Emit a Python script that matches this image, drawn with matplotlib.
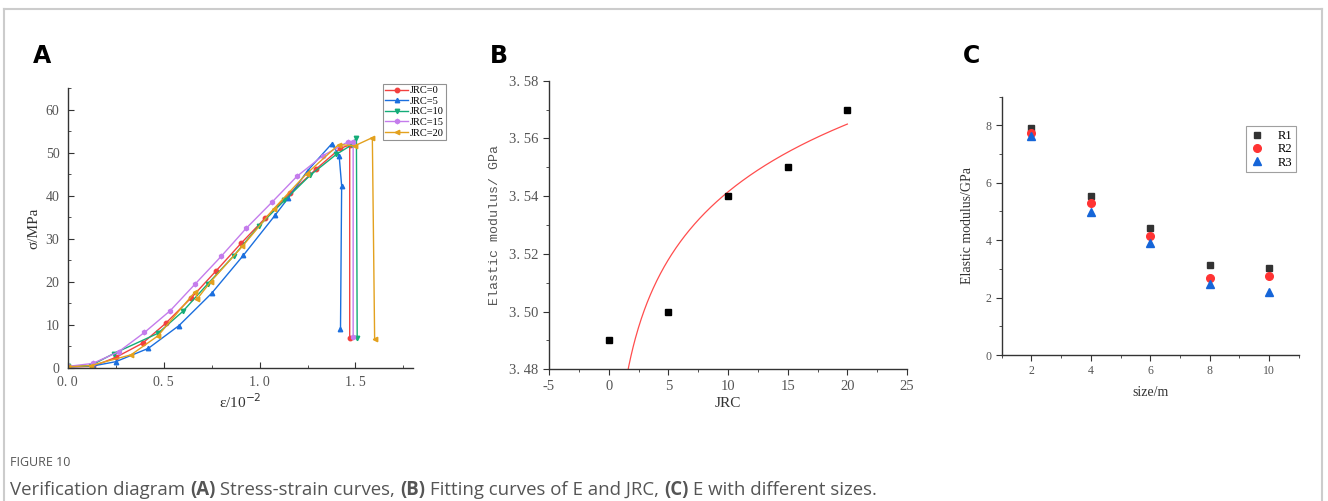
import matplotlib
matplotlib.use("Agg")
import matplotlib.pyplot as plt
import numpy as np
from matplotlib.ticker import MultipleLocator, FuncFormatter

# ---- Panel A: stress-strain curves (strain in 1e-2, stress in MPa) ----
jrc0_x = [0.0, 0.13, 0.25, 0.39, 0.51, 0.645, 0.775, 0.905, 1.03, 1.16, 1.295, 1.42, 1.47, 1.47]
jrc0_y = [0.2, 0.3, 2.4, 5.7, 10.3, 16.3, 22.6, 29.0, 34.8, 40.6, 46.2, 51.0, 51.8, 6.8]
jrc5_x = [0.0, 0.13, 0.25, 0.42, 0.58, 0.75, 0.915, 1.08, 1.15, 1.25, 1.377, 1.415, 1.428, 1.422]
jrc5_y = [0.2, 0.4, 1.4, 4.5, 9.8, 17.3, 26.1, 35.4, 39.5, 45.8, 52.1, 49.3, 42.3, 8.9]
jrc10_x = [0.0, 0.12, 0.24, 0.47, 0.60, 0.73, 0.865, 0.995, 1.13, 1.265, 1.40, 1.48, 1.505, 1.509]
jrc10_y = [0.3, 0.5, 3.3, 8.0, 13.1, 19.5, 26.0, 32.9, 38.9, 44.8, 49.6, 51.8, 53.5, 6.8]
jrc15_x = [0.0, 0.13, 0.265, 0.40, 0.535, 0.665, 0.80, 0.93, 1.065, 1.195, 1.33, 1.46, 1.488, 1.488]
jrc15_y = [0.3, 1.0, 3.7, 8.2, 13.3, 19.5, 25.9, 32.4, 38.5, 44.5, 49.3, 52.5, 52.6, 7.1]
jrc20_x = [0.0, 0.12, 0.33, 0.47, 0.665, 0.675, 0.745, 0.91, 1.075, 1.245, 1.413, 1.496, 1.588, 1.60]
jrc20_y = [0.2, 0.5, 3.0, 7.4, 17.7, 16.0, 20.0, 28.2, 37.0, 45.1, 51.9, 51.6, 53.5, 6.6]
a_labels = ["JRC=0", "JRC=5", "JRC=10", "JRC=15", "JRC=20"]
a_colors = ["#f2403f", "#1b6fde", "#14ac78", "#c47cec", "#e3a11e"]
a_markers = ["o", "^", "v", "h", "<"]

# ---- Panel B: elastic modulus vs JRC with log fit ----
jrc = [0, 5, 10, 15, 20]
modulus = [3.49, 3.50, 3.54, 3.55, 3.57]
fit_a = 3.4634   # E = a + b ln(JRC)
fit_b = 0.0339

# ---- Panel C: elastic modulus vs size ----
size_m = [2, 4, 6, 8, 10]
r1 = [7.90, 5.54, 4.43, 3.13, 3.02]
r2 = [7.73, 5.29, 4.16, 2.70, 2.77]
r3 = [7.63, 4.98, 3.90, 2.48, 2.19]

SERIF = "Liberation Serif"
TICK_C = "#555555"
SPINE_C = "#333333"

fig = plt.figure(figsize=(13.28, 5.01), dpi=100)


def style_axes(ax, direction, size=10):
    for s in ["top", "right"]:
        ax.spines[s].set_visible(False)
    for s in ["left", "bottom"]:
        ax.spines[s].set_color(SPINE_C)
        ax.spines[s].set_linewidth(1.0)
    ax.tick_params(which="both", direction=direction, colors=SPINE_C,
                   labelcolor=TICK_C, labelsize=size)
    ax.tick_params(which="major", length=4)
    ax.tick_params(which="minor", length=2.5)
    for lab in ax.get_xticklabels() + ax.get_yticklabels():
        lab.set_fontfamily(SERIF)


def spaced(fmt):
    # mimic the "0. 5" look of the original tick labels
    return FuncFormatter(lambda v, p: (fmt % v).replace(".", ". "))


# Panel A
axA = fig.add_axes([0.051, 0.266, 0.260, 0.558])
series = [(jrc0_x, jrc0_y), (jrc5_x, jrc5_y), (jrc10_x, jrc10_y),
          (jrc15_x, jrc15_y), (jrc20_x, jrc20_y)]
for (xs, ys), lab, c, m in zip(series, a_labels, a_colors, a_markers):
    axA.plot(xs, ys, color=c, lw=1.0, marker=m, ms=3.2, label=lab)
axA.set_xlim(0, 1.8)
axA.set_ylim(0, 65)
axA.xaxis.set_major_locator(MultipleLocator(0.5))
axA.xaxis.set_minor_locator(MultipleLocator(0.25))
axA.yaxis.set_major_locator(MultipleLocator(10))
axA.yaxis.set_minor_locator(MultipleLocator(5))
axA.xaxis.set_major_formatter(spaced("%.1f"))
style_axes(axA, "in", 10)
axA.tick_params(axis="both", pad=6)
axA.set_xlabel(r"ε/10$^{-2}$", family=SERIF, fontsize=11, color="#333333", labelpad=2)
axA.set_ylabel("σ/MPa", family=SERIF, fontsize=11, color="#333333", labelpad=4)
legA = axA.legend(loc="upper left", bbox_to_anchor=(383 / 1328, 1 - 84 / 501),
                  bbox_transform=fig.transFigure, prop={"family": SERIF, "size": 7.5},
                  frameon=True, fancybox=False, edgecolor="#777777", handlelength=2.2,
                  borderpad=0.2, labelspacing=0.12, handletextpad=0.2, borderaxespad=0)
legA.get_frame().set_linewidth(0.8)

# Panel B
axB = fig.add_axes([0.4134, 0.263, 0.2696, 0.576])
xfit = np.linspace(1.5, 20, 300)
axB.plot(xfit, fit_a + fit_b * np.log(xfit), color="#ff4d4d", lw=0.9)
axB.plot(jrc, modulus, ls="none", marker="s", ms=5, color="black")
axB.set_xlim(-5, 25)
axB.set_ylim(3.48, 3.58)
axB.xaxis.set_major_locator(MultipleLocator(5))
axB.xaxis.set_minor_locator(MultipleLocator(2.5))
axB.yaxis.set_major_locator(MultipleLocator(0.02))
axB.yaxis.set_minor_locator(MultipleLocator(0.01))
axB.yaxis.set_major_formatter(spaced("%.2f"))
axB.xaxis.set_major_formatter(FuncFormatter(lambda v, p: "%d" % round(v)))
style_axes(axB, "out", 10.5)
axB.set_xlabel("JRC", family=SERIF, fontsize=11, color="#333333", labelpad=3)
axB.set_ylabel("Elastic modulus/ GPa", family="Liberation Mono", fontsize=9.5,
               color="#555555", labelpad=6)

# Panel C
axC = fig.add_axes([0.7543, 0.2914, 0.2237, 0.5156])
axC.plot(size_m, r1, ls="none", marker="s", ms=5, color="#333333", label="R1")
axC.plot(size_m, r2, ls="none", marker="o", ms=5.5, color="#ff3333", label="R2")
axC.plot(size_m, r3, ls="none", marker="^", ms=6, color="#1565d8", label="R3")
axC.set_xlim(1, 11)
axC.set_ylim(0, 9)
axC.xaxis.set_major_locator(MultipleLocator(2))
axC.xaxis.set_minor_locator(MultipleLocator(1))
axC.yaxis.set_major_locator(MultipleLocator(2))
axC.yaxis.set_minor_locator(MultipleLocator(1))
style_axes(axC, "out", 8.5)
axC.set_xlabel("size/m", family=SERIF, fontsize=10, color="#333333", labelpad=6)
axC.set_ylabel("Elastic modulus/GPa", family=SERIF, fontsize=10, color="#333333", labelpad=8)
legC = axC.legend(loc="upper right", bbox_to_anchor=(0.99, 0.885), prop={"family": SERIF, "size": 9},
                  frameon=True, fancybox=False, edgecolor="#888888", handlelength=1.2,
                  borderpad=0.3, labelspacing=0.1, handletextpad=1.0, borderaxespad=0)
legC.get_frame().set_linewidth(0.8)

# Panel letters
for x, lab in [(0.025, "A"), (0.369, "B"), (0.725, "C")]:
    fig.text(x, 0.874, lab, fontsize=17, fontweight="bold", family="DejaVu Sans",
             color="black", va="baseline")

# Frame around the figure (open at bottom)
frame_c = "#cccccc"
fig.add_artist(plt.Line2D([0.003, 0.003], [0.0, 0.982], color=frame_c, lw=1.5))
fig.add_artist(plt.Line2D([0.003, 0.9955], [0.982, 0.982], color=frame_c, lw=1.5))
fig.add_artist(plt.Line2D([0.9955, 0.9955], [0.0, 0.982], color=frame_c, lw=1.5))

# Caption (bold panel refs placed piece by piece)
cap_c = "#555555"
fig.text(0.0075, 0.069, "FIGURE 10", family="Open Sans", fontsize=9, color=cap_c, va="baseline")
pieces = [("Verification diagram ", "normal"), ("(A)", "bold"), (" Stress-strain curves, ", "normal"),
          ("(B)", "bold"), (" Fitting curves of E and JRC, ", "normal"), ("(C)", "bold"),
          (" E with different sizes.", "normal")]
fig.canvas.draw()
renderer = fig.canvas.get_renderer()
xpos = 0.0075
for txt, w in pieces:
    t = fig.text(xpos, 0.012, txt, family="Open Sans", fontsize=13.4, color=cap_c,
                 fontweight=w, va="baseline")
    xpos += t.get_window_extent(renderer).width / fig.bbox.width

fig.savefig("out.png", dpi=100)
